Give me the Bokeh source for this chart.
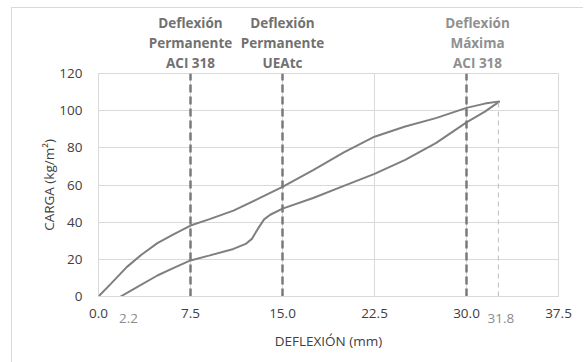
from bokeh.plotting import figure
from bokeh.models import LinearAxis, FixedTicker
from bokeh.embed import file_html
from bokeh.resources import INLINE

# ---- data ----
carga_x = [0, 1, 2.3, 3.5, 4.8, 6, 7.5, 9, 11, 13, 15, 17.5, 20, 22.5, 25, 27.5, 30, 31.5, 32.7]
carga_y = [0, 6.8, 15.8, 22.5, 28.7, 33, 38.2, 41.5, 46.2, 52.5, 59, 68, 77.5, 86, 91.5, 96, 101.5, 103.8, 105]

descarga_x = [1.8, 3, 4.8, 6, 7.5, 9, 11, 12, 12.5, 13, 13.5, 14, 15, 17.5, 20, 22.5, 25, 27.5, 30, 31.5, 32.7]
descarga_y = [0, 4.5, 11.3, 15, 19.4, 22, 25.6, 28.3, 31, 36.5, 41.5, 44, 47.3, 53, 59.5, 66, 73.5, 82.5, 93.7, 99.5, 105]

limites_x = [7.5, 15.0, 30.0]
limites_labels = ["Deflexión\nPermanente\nACI 318",
                  "Deflexión\nPermanente\nUEAtc"]
maxima_label = "Deflexión\nMáxima\nACI 318"
maxima_label_x = 30.9
defl_max_x = 32.6
defl_max_top = 105

x_ticks = [0, 7.5, 15, 22.5, 30, 37.5]
y_ticks = [0, 20, 40, 60, 80, 100, 120]
extra_labels = ["2.2", "31.8"]
extra_pos = [2.45, 32.8]

FONT = "Open Sans"
GRID = "#d9d9d9"
CURVE = "#7f7f7f"

p = figure(width=572, height=355, x_range=(0, 37.5), y_range=(0, 120),
           output_backend="svg", toolbar_location=None, title=None,
           min_border_left=86, min_border_right=26, min_border_top=65, min_border_bottom=67)
p.styles = {"margin-left": "11px", "margin-top": "7px",
            "border-left": "1px solid #d9d9d9", "border-top": "1px solid #d9d9d9"}

p.background_fill_color = "white"
p.border_fill_color = "white"
p.outline_line_color = GRID


def style_axis(ax, color="#404040", bold=False):
    ax.axis_line_color = None
    ax.major_tick_line_color = None
    ax.minor_tick_line_color = None
    ax.major_label_text_font = FONT
    ax.major_label_text_font_size = "13.5px"
    ax.major_label_text_color = color
    ax.major_label_text_font_style = "bold" if bold else "normal"
    ax.axis_label_text_font = FONT
    ax.axis_label_text_font_size = "13.5px"
    ax.axis_label_text_font_style = "normal"
    ax.axis_label_text_color = "#404040"


style_axis(p.xaxis[0])
style_axis(p.yaxis[0])
p.xaxis.axis_line_color = GRID

p.xaxis.ticker = FixedTicker(ticks=x_ticks)
p.xaxis.major_label_overrides = {t: f"{t:.1f}" for t in x_ticks}
p.yaxis.ticker = FixedTicker(ticks=y_ticks)
p.xaxis.axis_label = "DEFLEXIÓN (mm)"
p.yaxis.axis_label = "CARGA (kg/m²)"
p.xaxis.major_label_standoff = 6
p.yaxis.major_label_standoff = 10
p.xaxis.axis_label_standoff = 11
p.yaxis.axis_label_standoff = -2

# extra grey labels under the x axis
ax_extra = LinearAxis(ticker=FixedTicker(ticks=extra_pos),
                      major_label_overrides=dict(zip(extra_pos, extra_labels)))
style_axis(ax_extra, color="#8c8c8c")
ax_extra.major_label_standoff = -45
p.add_layout(ax_extra, "below")

# labels above the plot
ax_top = LinearAxis(ticker=FixedTicker(ticks=limites_x[:2]),
                    major_label_overrides=dict(zip(limites_x[:2], limites_labels)))
style_axis(ax_top, color="#717171", bold=True)
ax_top.major_tick_out = 0
ax_top.major_label_standoff = 2
ax_top.major_label_text_line_height = 1.1
p.add_layout(ax_top, "above")

ax_top2 = LinearAxis(ticker=FixedTicker(ticks=[maxima_label_x]),
                     major_label_overrides={maxima_label_x: maxima_label})
style_axis(ax_top2, color="#909090", bold=True)
ax_top2.major_tick_out = 0
ax_top2.major_label_standoff = -61
ax_top2.major_label_text_line_height = 1.1
p.add_layout(ax_top2, "above")

p.xgrid.ticker = FixedTicker(ticks=x_ticks)
p.ygrid.ticker = FixedTicker(ticks=y_ticks)
p.xgrid.grid_line_color = GRID
p.ygrid.grid_line_color = GRID

p.line(carga_x, carga_y, line_color=CURVE, line_width=2)
p.line(descarga_x, descarga_y, line_color=CURVE, line_width=2)

p.segment(x0=limites_x, y0=[0] * 3, x1=limites_x, y1=[120] * 3,
          line_color="#7a7a7a", line_width=2.5, line_dash="8 4")
p.segment(x0=[defl_max_x], y0=[0], x1=[defl_max_x], y1=[defl_max_top],
          line_color="#bdbdbd", line_width=1, line_dash="5 4")

open("out.html", "w").write(file_html(p, INLINE))
